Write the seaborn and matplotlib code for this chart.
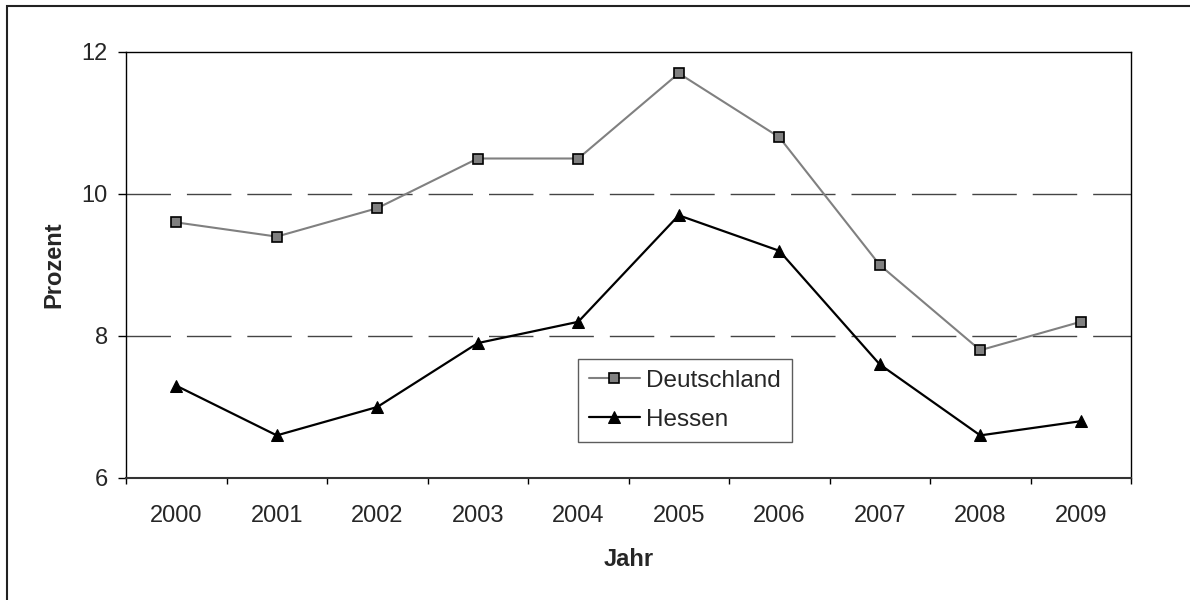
import pandas as pd
import seaborn as sns
import matplotlib.pyplot as plt
from matplotlib.patches import Rectangle
from matplotlib.ticker import FixedLocator

# data
years = ['2000', '2001', '2002', '2003', '2004', '2005', '2006', '2007', '2008', '2009']
deutschland = [9.6, 9.4, 9.8, 10.5, 10.5, 11.7, 10.8, 9.0, 7.8, 8.2]
hessen = [7.3, 6.6, 7.0, 7.9, 8.2, 9.7, 9.2, 7.6, 6.6, 6.8]

sns.set_style('white')
plt.rcParams['font.family'] = ['Liberation Sans', 'DejaVu Sans']
fs = 17

df = pd.DataFrame({'idx': range(len(years)), 'Deutschland': deutschland, 'Hessen': hessen})

fig = plt.figure(figsize=(11.9, 6), dpi=100)
# outer chart frame (cut off on the right and bottom)
fig.add_artist(Rectangle((7 / 1190, -0.05), 1.1, 1 - 6 / 600 + 0.05, transform=fig.transFigure,
                         fill=False, edgecolor='#222222', lw=1.5))
ax = fig.add_axes([126 / 1190, 1 - 478 / 600, 1005 / 1190, 426 / 600])

# dashed gridlines
for yv in [8, 10]:
    ax.axhline(yv, color='#444444', lw=1, dashes=(32, 11.5), zorder=0)

sns.lineplot(data=df, x='idx', y='Deutschland', ax=ax, color='#808080', lw=1.5,
             marker='s', markersize=6.5, markerfacecolor='#808080',
             markeredgecolor='black', markeredgewidth=1.2, label='Deutschland')
sns.lineplot(data=df, x='idx', y='Hessen', ax=ax, color='black', lw=1.6,
             marker='^', markersize=8.5, markerfacecolor='black',
             markeredgecolor='black', label='Hessen')

ax.set_xlim(-0.5, len(years) - 0.5)
ax.set_ylim(6, 12)
ax.set_yticks([6, 8, 10, 12])
ax.set_xticks(range(len(years)))
ax.set_xticklabels(years)
ax.xaxis.set_minor_locator(FixedLocator([i - 0.5 for i in range(len(years) + 1)]))
ax.tick_params(axis='x', which='major', length=0, pad=19.5, labelsize=fs)
ax.tick_params(axis='x', which='minor', length=4, width=1, color='black', direction='out', bottom=True)
ax.tick_params(axis='y', which='major', length=6, width=1, color='black', direction='out', left=True,
               pad=7, labelsize=fs)

for s in ax.spines.values():
    s.set_color('black')
    s.set_linewidth(1)
ax.spines['bottom'].set_color('#333333')
ax.spines['bottom'].set_linewidth(1.5)

ax.set_xlabel('Jahr', fontsize=fs, fontweight='bold', labelpad=15)
ax.set_ylabel('Prozent', fontsize=fs, fontweight='bold', labelpad=12)

leg = ax.legend(loc='upper left', bbox_to_anchor=((578 - 126) / 1005, (478 - 359) / 426),
                fontsize=17.5, frameon=True, fancybox=False, handlelength=2.1,
                borderpad=0.45, labelspacing=0.7, handletextpad=0.25, borderaxespad=0)
leg.get_frame().set_edgecolor('#333333')
leg.get_frame().set_linewidth(1)

fig.savefig('out.png', dpi=100)
